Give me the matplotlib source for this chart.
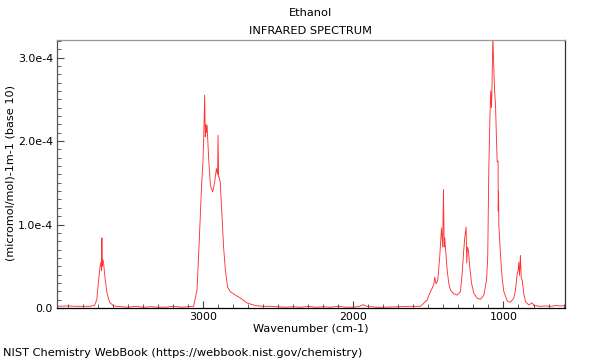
import numpy as np
import matplotlib
matplotlib.use('Agg')
import matplotlib.pyplot as plt
from matplotlib.ticker import FixedLocator, MultipleLocator

title = "Ethanol"
subtitle = "INFRARED SPECTRUM"
x_label = "Wavenumber (cm-1)"
y_label = "(micromol/mol)-1m-1 (base 10)"
footer = "NIST Chemistry WebBook (https://webbook.nist.gov/chemistry)"

# wavenumber (cm-1) and absorbance in units of 1e-4
wavenumber = [
    3975, 3900, 3850, 3800, 3760, 3725, 3710, 3698, 3688, 3682, 3678, 3676,
    3674, 3670, 3665, 3660, 3653, 3642, 3630, 3620, 3600, 3580, 3550, 3500,
    3450, 3400, 3350, 3300, 3250, 3200, 3150, 3100, 3080, 3065, 3042, 3027,
    3013, 3002, 2998, 2991, 2987, 2984, 2980, 2975, 2965, 2953, 2938, 2925,
    2913, 2905, 2902, 2898, 2895, 2887, 2875, 2865, 2853, 2838, 2820, 2787,
    2753, 2709, 2653, 2600, 2553, 2500, 2450, 2400, 2350, 2300, 2250, 2200,
    2150, 2100, 2050, 2000, 1960, 1935, 1910, 1850, 1800, 1700, 1620, 1553,
    1509, 1487, 1465, 1458, 1449, 1438, 1425, 1413, 1405, 1400, 1395, 1391,
    1387, 1375, 1365, 1353, 1331, 1309, 1287, 1275, 1265, 1258, 1249, 1245,
    1240, 1233, 1225, 1213, 1198, 1175, 1153, 1131, 1113, 1105, 1098, 1091,
    1085, 1080, 1077, 1071, 1065, 1060, 1053, 1047, 1042, 1036, 1035, 1033,
    1031, 1020, 1009, 998, 975, 953, 931, 920, 909, 902, 898, 893, 887,
    882, 875, 865, 853, 831, 809, 798, 753, 720, 687, 650, 620, 590,
]
absorb_e4 = [
    0.02, 0.025, 0.02, 0.02, 0.02, 0.03, 0.10, 0.33, 0.50, 0.55, 0.45, 0.84,
    0.50, 0.58, 0.55, 0.45, 0.33, 0.18, 0.10, 0.06, 0.03, 0.02, 0.015, 0.01,
    0.02, 0.01, 0.015, 0.01, 0.01, 0.02, 0.01, 0.015, 0.02, 0.02, 0.215, 0.81,
    1.41, 1.77, 2.00, 2.55, 2.05, 2.20, 2.10, 2.19, 1.81, 1.47, 1.39, 1.50,
    1.67, 1.60, 2.07, 1.57, 1.57, 1.50, 1.09, 0.73, 0.45, 0.25, 0.195, 0.155,
    0.12, 0.06, 0.03, 0.02, 0.02, 0.015, 0.01, 0.015, 0.01, 0.02, 0.01, 0.015,
    0.01, 0.02, 0.01, 0.01, 0.02, 0.04, 0.02, 0.01, 0.01, 0.015, 0.02, 0.02,
    0.096, 0.195, 0.275, 0.37, 0.29, 0.33, 0.61, 0.96, 0.73, 1.42, 0.73, 0.84,
    0.73, 0.45, 0.30, 0.215, 0.17, 0.155, 0.195, 0.42, 0.69, 0.84, 0.97, 0.54,
    0.73, 0.69, 0.49, 0.30, 0.176, 0.116, 0.104, 0.155, 0.33, 0.61, 1.64, 2.24,
    2.60, 2.40, 2.60, 3.25, 2.91, 2.63, 2.43, 2.03, 1.75, 1.76, 1.16, 1.40,
    1.00, 0.64, 0.36, 0.20, 0.084, 0.07, 0.12, 0.215, 0.41, 0.45, 0.55, 0.39,
    0.63, 0.37, 0.33, 0.176, 0.075, 0.036, 0.063, 0.03, 0.02, 0.025, 0.02,
    0.03, 0.025, 0.03,
]
y_ticks = [0.0, 1.0e-4, 2.0e-4, 3.0e-4]
y_tick_labels = ["0.0", "1.0e-4", "2.0e-4", "3.0e-4"]
x_ticks = [3000, 2000, 1000]

fig = plt.figure(figsize=(6, 3.6), dpi=100)
ax = fig.add_axes([0.095, 0.1444, 0.8467, 0.7445])

ax.plot(wavenumber, np.array(absorb_e4) * 1e-4, color='red', lw=0.65, alpha=0.8)

ax.set_xlim(3975, 590)
ax.set_ylim(0, 3.21e-4)
ax.xaxis.set_major_locator(FixedLocator(x_ticks))
ax.xaxis.set_minor_locator(MultipleLocator(100))
ax.yaxis.set_major_locator(FixedLocator(y_ticks))
ax.set_yticklabels(y_tick_labels)
ax.yaxis.set_minor_locator(MultipleLocator(1e-5))
ax.tick_params(axis='both', which='both', direction='in', labelsize=7.9,
               top=False, right=False, color='#444444', pad=3)
ax.tick_params(which='major', length=5, width=0.8)
ax.tick_params(which='minor', length=3, width=0.6)

ax.spines['top'].set_color('#999999')
ax.spines['left'].set_color('#555555')
ax.spines['right'].set_color('#333333')
ax.spines['bottom'].set_color('black')
for s in ax.spines.values():
    s.set_linewidth(0.9)

ax.set_xlabel(x_label, fontsize=8.1, labelpad=1)
fig.text(0.018, 0.519, y_label, ha='center', va='center', rotation=90, fontsize=8.1)
fig.text(0.518, 0.965, title, ha='center', va='center', fontsize=8.2)
fig.text(0.518, 0.915, subtitle, ha='center', va='center', fontsize=8.2)
fig.text(0.005, 0.02, footer, ha='left', va='center', fontsize=8.2)

fig.savefig('out.png', dpi=100)
